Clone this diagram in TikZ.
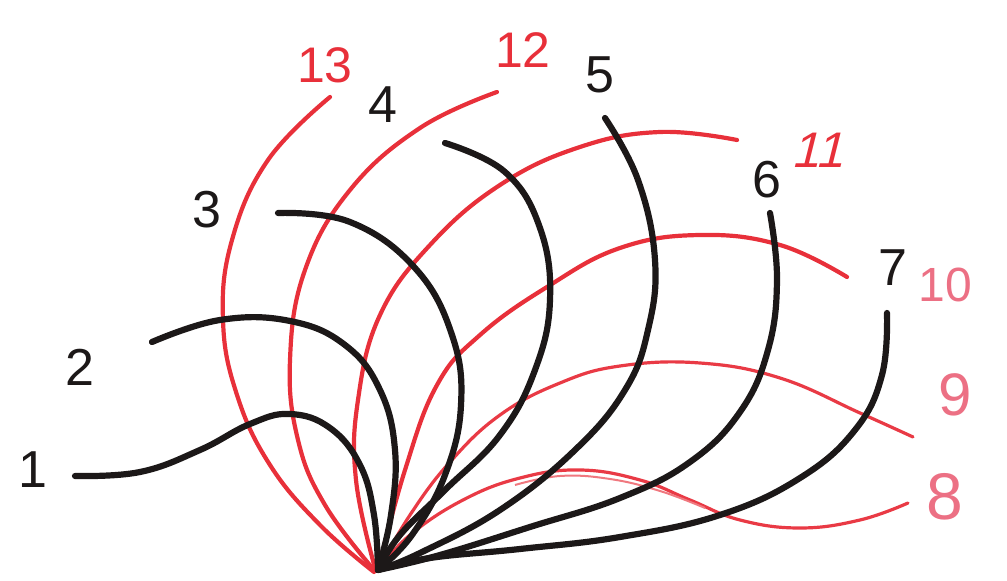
\documentclass[tikz,border=0pt]{standalone}
\usepackage{fontspec}
\setmainfont{Liberation Sans}
\definecolor{ink}{RGB}{28,24,24}
\definecolor{crayon}{RGB}{232,48,58}
\definecolor{pinkish}{RGB}{236,112,132}
\tikzset{
  blackstroke/.style={draw=ink, line width=3.1pt, line cap=round, line join=round},
  redstroke/.style={draw=crayon, line width=2.1pt, line cap=round, line join=round},
  lightred/.style={draw=crayon!85!pinkish, line width=1.6pt, line cap=round, line join=round},
  blabel/.style={text=ink, font=\fontsize{26}{26}\selectfont, inner sep=0pt},
  rlabel/.style={text=crayon, font=\fontsize{25}{25}\selectfont, inner sep=0pt},
  plabel/.style={text=pinkish, font=\fontsize{28}{28}\selectfont, inner sep=0pt},
}
\begin{document}
\begin{tikzpicture}[x=0.5pt,y=-0.5pt]
\useasboundingbox (0,0) rectangle (1007,581);
\coordinate (O) at (378,570);
% red curves (behind)
\draw[redstroke] plot[smooth, tension=0.7] coordinates {(330,97)(268,160)(232,240)(223,320)(237,395)(270,465)(320,525)(374,572)};
\draw[redstroke] plot[smooth, tension=0.7] coordinates {(497,92)(420,128)(350,190)(305,270)(290,360)(298,440)(325,505)(374,570)};
\draw[redstroke] plot[smooth, tension=0.7] coordinates {(737,140)(660,132)(580,147)(500,185)(430,245)(380,315)(358,400)(356,480)(375,568)};
\draw[redstroke] plot[smooth, tension=0.7] coordinates {(847,277)(780,245)(700,235)(620,248)(547,287)(480,335)(437,385)(405,470)(378,570)};
\draw[lightred] plot[smooth, tension=0.7] coordinates {(913,437)(860,413)(780,378)(700,363)(620,366)(560,383)(500,415)(450,462)(410,515)(378,570)};
\draw[lightred] plot[smooth, tension=0.7] coordinates {(908,503)(860,520)(800,528)(740,520)(690,500)(640,480)(580,470)(520,478)(463,500)(410,535)(378,570)};
\draw[crayon!65!white, line width=1pt] plot[smooth, tension=0.7] coordinates {(705,508)(660,491)(610,479)(560,476)(515,485)};
% black curves
\draw[blackstroke] plot[smooth, tension=0.7] coordinates {(75,476)(140,472)(200,450)(250,424)(290,414)(330,428)(360,465)(374,515)(O)};
\draw[blackstroke] plot[smooth, tension=0.7] coordinates {(152,342)(220,320)(290,321)(345,345)(380,390)(395,450)(391,515)(O)};
\draw[blackstroke] plot[smooth, tension=0.7] coordinates {(278,213)(350,222)(415,268)(452,335)(461,405)(445,475)(412,535)(O)};
\draw[blackstroke] plot[smooth, tension=0.7] coordinates {(445,143)(505,172)(540,228)(550,300)(535,370)(500,435)(445,490)(400,535)(O)};
\draw[blackstroke] plot[smooth, tension=0.7] coordinates {(605,118)(638,180)(655,260)(648,330)(625,390)(575,450)(500,510)(420,553)(O)};
\draw[blackstroke] plot[smooth, tension=0.7] coordinates {(770,213)(777,280)(768,350)(740,412)(690,462)(620,498)(530,527)(440,555)(O)};
\draw[blackstroke] plot[smooth, tension=0.7] coordinates {(887,313)(882,375)(855,430)(800,478)(720,515)(620,537)(520,549)(430,558)(O)};
% labels
\node[blabel] (l1) at (33,470) {1};
\node[blabel] (l2) at (80,367) {2};
\node[blabel] (l3) at (207,210) {3};
\node[blabel] (l4) at (383,105) {4};
\node[blabel] (l5) at (600,75) {5};
\node[blabel] (l6) at (767,180) {6};
\node[blabel] (l7) at (893,268) {7};
\node[rlabel] (l13) at (325,65) {13};
\node[rlabel] (l12) at (523,50) {12};
\node[rlabel, xslant=0.25] (l11) at (822,150) {11};
\node[plabel, font=\fontsize{24}{24}\selectfont] (l10) at (945,285) {10};
\node[plabel, font=\fontsize{30}{30}\selectfont] (l9) at (955,395) {9};
\node[plabel, font=\fontsize{33}{33}\selectfont] (l8) at (945,497) {8};
\end{tikzpicture}
\end{document}
